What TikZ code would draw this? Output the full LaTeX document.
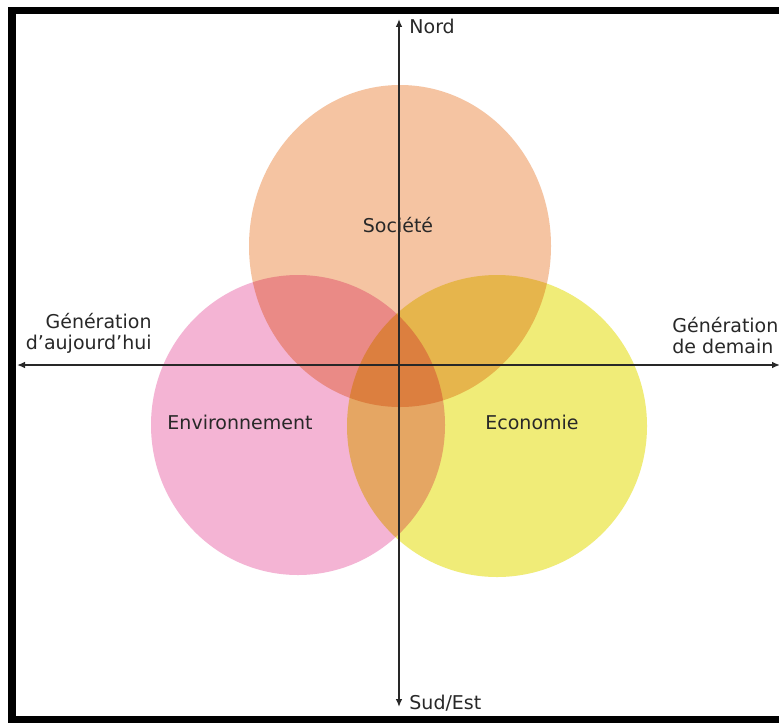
\documentclass[tikz,border=0pt]{standalone}
\usepackage{fontspec}
\setmainfont{DejaVu Sans}
\usetikzlibrary{arrows.meta,positioning}
\definecolor{ink}{RGB}{40,40,40}
\definecolor{societe}{RGB}{245,196,162}
\definecolor{environ}{RGB}{244,180,212}
\definecolor{econ}{RGB}{240,236,120}
\tikzset{
  frame/.style={line width=3.7pt, black},
  axis/.style={{Latex[length=4pt,width=3.4pt]}-{Latex[length=4pt,width=3.4pt]}, ink, line width=0.9pt},
  pole/.style={font=\fontsize{9.5}{10.5}\selectfont, text=ink, inner sep=1pt},
  sphere/.style={font=\fontsize{9.5}{10.5}\selectfont, text=ink, inner sep=1pt},
}
\begin{document}
\begin{tikzpicture}[x=0.5pt,y=-0.5pt]
  \useasboundingbox (0,0) rectangle (779,722);
  \fill[white] (0,0) rectangle (779,722);
  % frame, cut off at right and bottom
  \draw[frame] (790,10.5) -- (12,10.5) -- (12,720) -- (790,720);
  % the three spheres
  \begin{scope}[blend group=multiply]
    \fill[societe] (400,246) ellipse [x radius=151, y radius=161];
    \fill[environ] (298,425) ellipse [x radius=147, y radius=150];
    \fill[econ] (497,426) ellipse [x radius=150, y radius=151];
  \end{scope}
  \node[sphere] (soc) at (398,225) {Société};
  \node[sphere] (env) at (240,422) {Environnement};
  \node[sphere] (eco) at (532,422) {Economie};
  % axes
  \coordinate (north) at (399,19);
  \coordinate (south) at (399,707);
  \coordinate (west) at (17,365);
  \coordinate (east) at (780,365);
  \draw[axis] (south) -- (north);
  \draw[axis] (west) -- (east);
  \node[pole, anchor=west] (nord) at (407,26) {Nord};
  \node[pole, anchor=west] (sud) at (407,703) {Sud/Est};
  \node[pole, anchor=south east, align=right] (today) at (154,356) {Génération\\d’aujourd’hui};
  \node[pole, anchor=south west, align=left] (tomorrow) at (670,356) {Génération\\de demain};
\end{tikzpicture}
\end{document}
